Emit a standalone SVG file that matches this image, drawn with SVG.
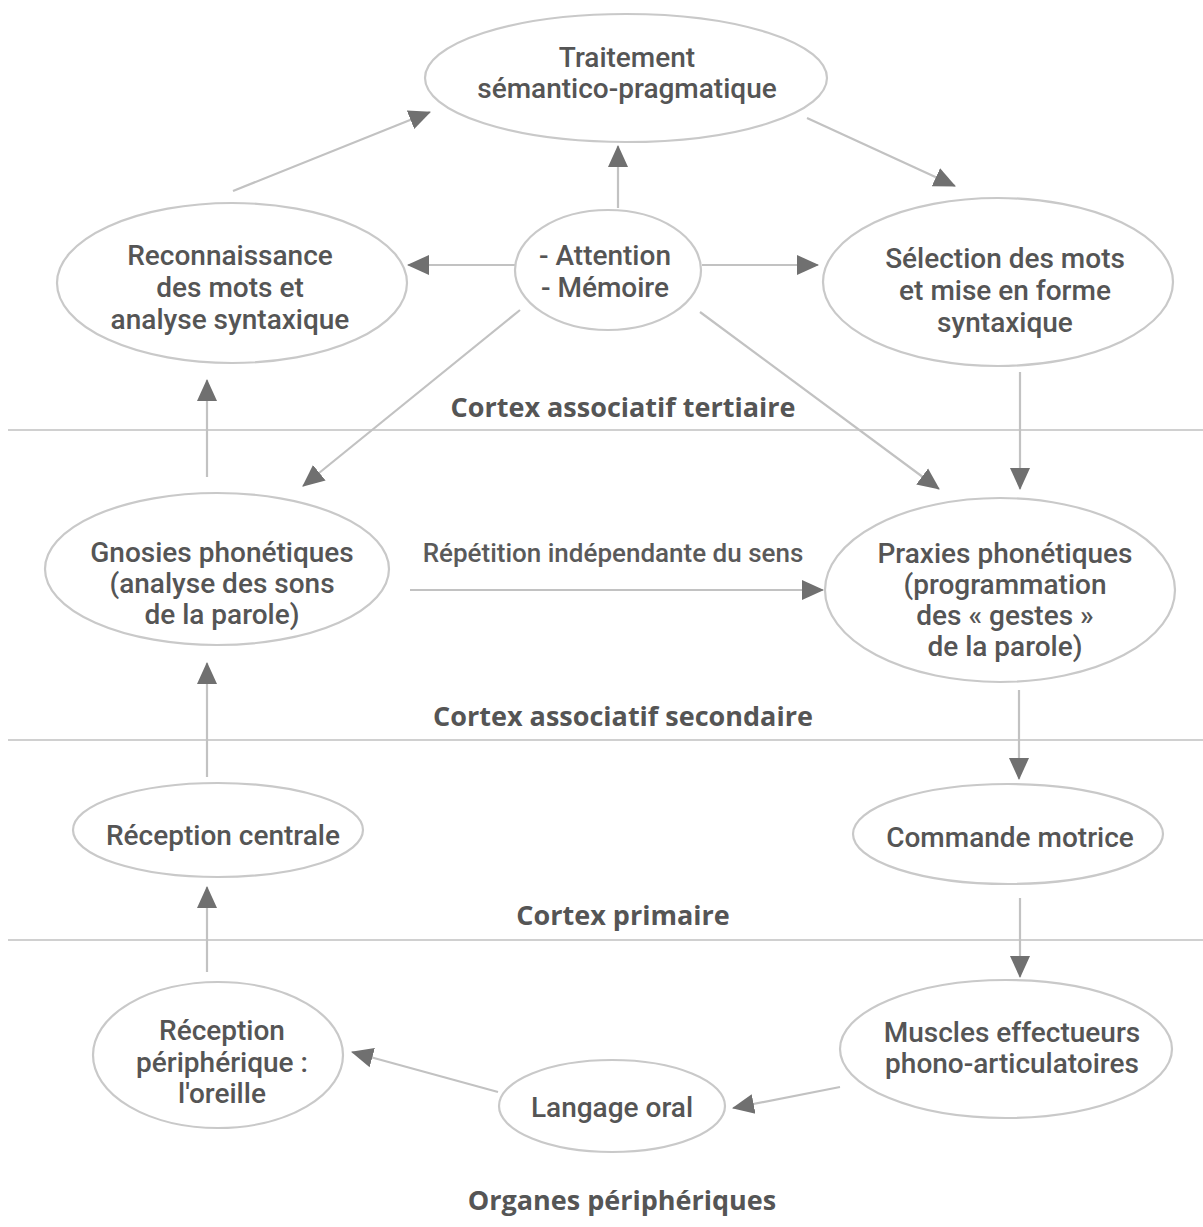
<svg xmlns="http://www.w3.org/2000/svg" width="1203" height="1227" viewBox="0 0 1203 1227">
<defs>
<marker id="ah" viewBox="0 0 22 22" refX="21" refY="11" markerWidth="22" markerHeight="22" markerUnits="userSpaceOnUse" orient="auto">
<path d="M0,1 L22,11 L0,21 Z" fill="#707070"/>
</marker>
</defs>
<style>
.node ellipse{fill:none;stroke:#c9c9c9;stroke-width:2.2}
.node text{font-family:Roboto,"Open Sans",sans-serif;font-weight:500;font-size:28px;fill:#555;text-anchor:middle}
.lbl{font-family:"Open Sans","Noto Sans",sans-serif;font-weight:700;font-size:27px;fill:#555;text-anchor:middle}
.elbl{font-family:Roboto,"Open Sans",sans-serif;font-weight:500;font-size:26px;fill:#5a5a5a;text-anchor:middle}
.sep{stroke:#d0d0d0;stroke-width:2}
#connectors line{stroke:#c2c2c2;stroke-width:2.2;fill:none;marker-end:url(#ah)}
</style>
<rect width="1203" height="1227" fill="#fff"/>
<g id="separators">
<line class="sep" x1="8" y1="430" x2="1203" y2="430"/>
<line class="sep" x1="8" y1="740" x2="1203" y2="740"/>
<line class="sep" x1="8" y1="940" x2="1203" y2="940"/>
</g>
<g id="labels">
<text class="lbl" x="623" y="417">Cortex associatif tertiaire</text>
<text class="lbl" x="623" y="726">Cortex associatif secondaire</text>
<text class="lbl" x="623" y="925">Cortex primaire</text>
<text class="lbl" x="622" y="1210">Organes périphériques</text>
</g>
<g id="connectors">
<line x1="233" y1="191" x2="430" y2="112"/>
<line x1="807" y1="118" x2="955" y2="186"/>
<line x1="618" y1="208" x2="618" y2="146"/>
<line x1="515" y1="265" x2="408" y2="265"/>
<line x1="702" y1="265" x2="818" y2="265"/>
<line x1="520" y1="310" x2="303" y2="486"/>
<line x1="700" y1="312" x2="939" y2="489"/>
<line x1="1020" y1="372" x2="1020" y2="489"/>
<line x1="207" y1="477" x2="207" y2="380"/>
<line x1="410" y1="590" x2="823" y2="590"/>
<line x1="1019" y1="690" x2="1019" y2="779"/>
<line x1="207" y1="777" x2="207" y2="663"/>
<line x1="1020" y1="898" x2="1020" y2="977"/>
<line x1="207" y1="972" x2="207" y2="887"/>
<line x1="840" y1="1087" x2="733" y2="1108"/>
<line x1="498" y1="1092" x2="352" y2="1052"/>
<text class="elbl" x="613" y="562">Répétition indépendante du sens</text>
</g>
<g id="n-traitement" class="node">
<ellipse cx="626" cy="78" rx="201" ry="64"/>
<text x="627" y="67">Traitement<tspan x="627" y="98">sémantico-pragmatique</tspan></text>
</g>
<g id="n-attention" class="node">
<ellipse cx="608" cy="270" rx="93" ry="60"/>
<text x="605" y="265">- Attention<tspan x="605" y="297">- Mémoire</tspan></text>
</g>
<g id="n-reconnaissance" class="node">
<ellipse cx="232" cy="283" rx="175" ry="80"/>
<text x="230" y="265">Reconnaissance<tspan x="230" y="297">des mots et</tspan><tspan x="230" y="329">analyse syntaxique</tspan></text>
</g>
<g id="n-selection" class="node">
<ellipse cx="998" cy="282" rx="175" ry="84"/>
<text x="1005" y="268">Sélection des mots<tspan x="1005" y="300">et mise en forme</tspan><tspan x="1005" y="332">syntaxique</tspan></text>
</g>
<g id="n-gnosies" class="node">
<ellipse cx="217" cy="569" rx="172" ry="76"/>
<text x="222" y="562">Gnosies phonétiques<tspan x="222" y="593">(analyse des sons</tspan><tspan x="222" y="624">de la parole)</tspan></text>
</g>
<g id="n-praxies" class="node">
<ellipse cx="1000" cy="590" rx="175" ry="92"/>
<text x="1005" y="563">Praxies phonétiques<tspan x="1005" y="594">(programmation</tspan><tspan x="1005" y="625">des « gestes »</tspan><tspan x="1005" y="656">de la parole)</tspan></text>
</g>
<g id="n-reception-centrale" class="node">
<ellipse cx="218" cy="830" rx="145" ry="47"/>
<text x="223" y="845">Réception centrale</text>
</g>
<g id="n-commande" class="node">
<ellipse cx="1008" cy="834" rx="155" ry="50"/>
<text x="1010" y="847">Commande motrice</text>
</g>
<g id="n-reception-peripherique" class="node">
<ellipse cx="218" cy="1055" rx="125" ry="73"/>
<text x="222" y="1040">Réception<tspan x="222" y="1072">périphérique :</tspan><tspan x="222" y="1103">l'oreille</tspan></text>
</g>
<g id="n-muscles" class="node">
<ellipse cx="1006" cy="1049" rx="166" ry="69"/>
<text x="1012" y="1042">Muscles effectueurs<tspan x="1012" y="1073">phono-articulatoires</tspan></text>
</g>
<g id="n-langage" class="node">
<ellipse cx="612" cy="1106" rx="113" ry="46"/>
<text x="612" y="1117">Langage oral</text>
</g>
</svg>
